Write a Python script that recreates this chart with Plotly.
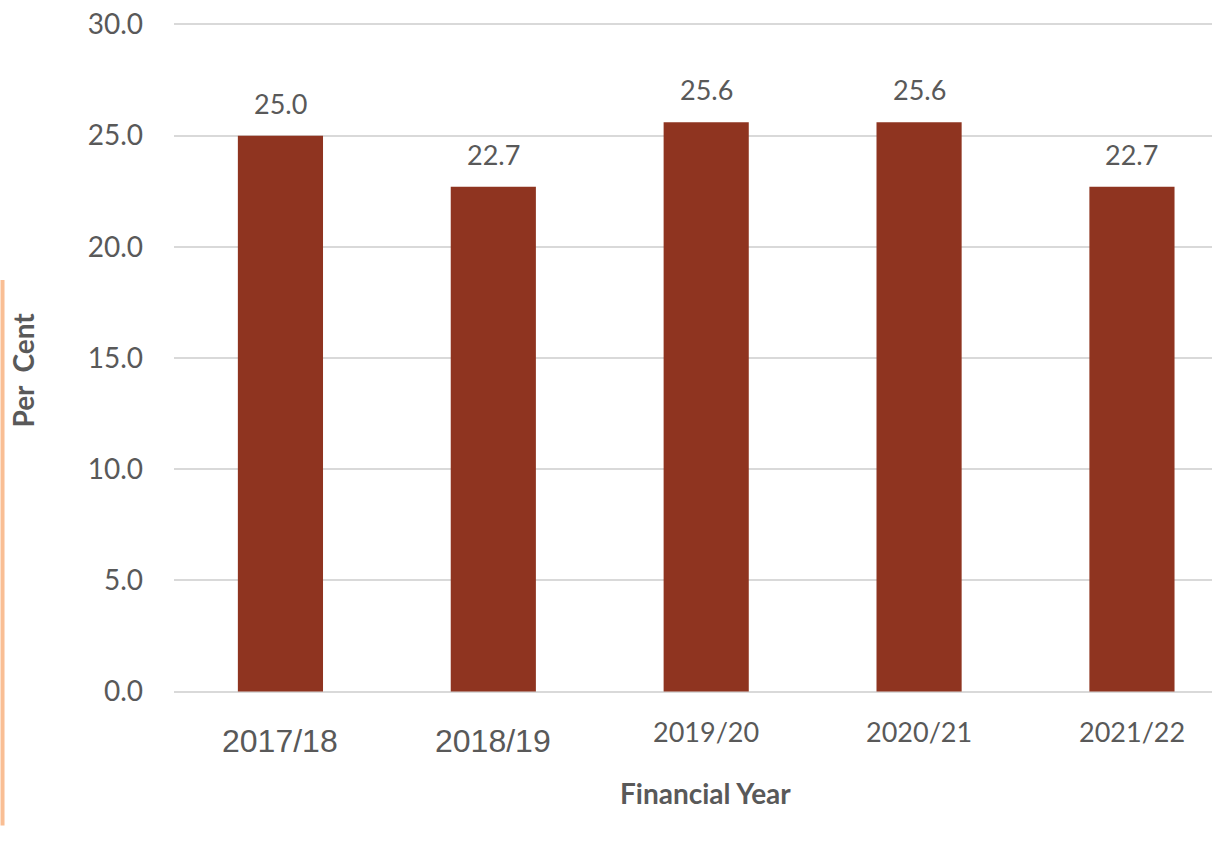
import plotly.graph_objects as go

# financial years and share (per cent)
years = ['2017/18', '2018/19', '2019/20', '2020/21', '2021/22']
per_cent = [25.0, 22.7, 25.6, 25.6, 22.7]

# the first two tick labels are set in a different, bigger face in the original
label_fonts = ['Liberation Sans', 'Liberation Sans', 'Lato', 'Lato', 'Lato']
label_sizes = [32, 32, 27, 27, 27]
label_shift = [-49, -49, -40, -40, -40]

y_ticks = [0, 5, 10, 15, 20, 25, 30]

bar_colour = '#8F3420'
grey = '#595959'

fig = go.Figure()

fig.add_trace(
    go.Bar(
        x=years,
        y=per_cent,
        marker=dict(color=bar_colour, line=dict(width=0)),
        showlegend=False,
        hoverinfo='skip')
)

# value labels above bars
for yr, v in zip(years, per_cent):
    fig.add_annotation(x=yr, y=v, xref='x', yref='y', text=f'{v:.1f}',
                       showarrow=False, yanchor='bottom', yshift=14,
                       font=dict(family='Lato', size=27, color=grey))

# category labels
for yr, fam, sz, sh in zip(years, label_fonts, label_sizes, label_shift):
    fig.add_annotation(x=yr, y=0, xref='x', yref='y', text=yr,
                       showarrow=False, yanchor='middle', yshift=sh,
                       font=dict(family=fam, size=sz, color=grey))

fig.add_annotation(x=0.512, y=-0.1441, xref='paper', yref='paper',
                   xanchor='center', yanchor='middle',
                   text='<b>Financial Year</b>', showarrow=False,
                   font=dict(family='Lato', size=28, color=grey))

fig.add_annotation(x=-0.1459, y=0.4823, xref='paper', yref='paper',
                   xanchor='center', yanchor='middle',
                   text='<b>Per  Cent</b>', showarrow=False, textangle=-90,
                   font=dict(family='Lato', size=28, color=grey))

# orange rule at the far left of the picture
fig.add_shape(type='line', xref='paper', yref='paper',
              x0=-0.1652, x1=-0.1652, y0=0.6152, y1=-0.1914,
              line=dict(color='#F9BE94', width=4))

# y range padded a little so the 0 and 30 gridlines are drawn
fig.update_layout(
    width=1212, height=843,
    margin=dict(l=173.5, r=0, t=19.55, b=146.55),
    paper_bgcolor='white', plot_bgcolor='white',
    bargap=0.6,
    xaxis=dict(range=[-0.5, 4.376], showticklabels=False, showgrid=False,
               zeroline=False, showline=False, ticks=''),
    yaxis=dict(range=[-0.2, 30.2], tickvals=y_ticks,
               ticktext=[f'{t:.1f}' for t in y_ticks],
               showgrid=True, gridcolor='#D9D9D9', gridwidth=1.5,
               zeroline=False, showline=False, ticks='',
               ticklabelstandoff=30,
               tickfont=dict(family='Lato', size=28, color=grey)),
)

# drop the default 8px body margin so the figure sits at the page corner
fig.write_html('out.html', config={'displayModeBar': False},
               post_script="document.body.style.margin='0';")
